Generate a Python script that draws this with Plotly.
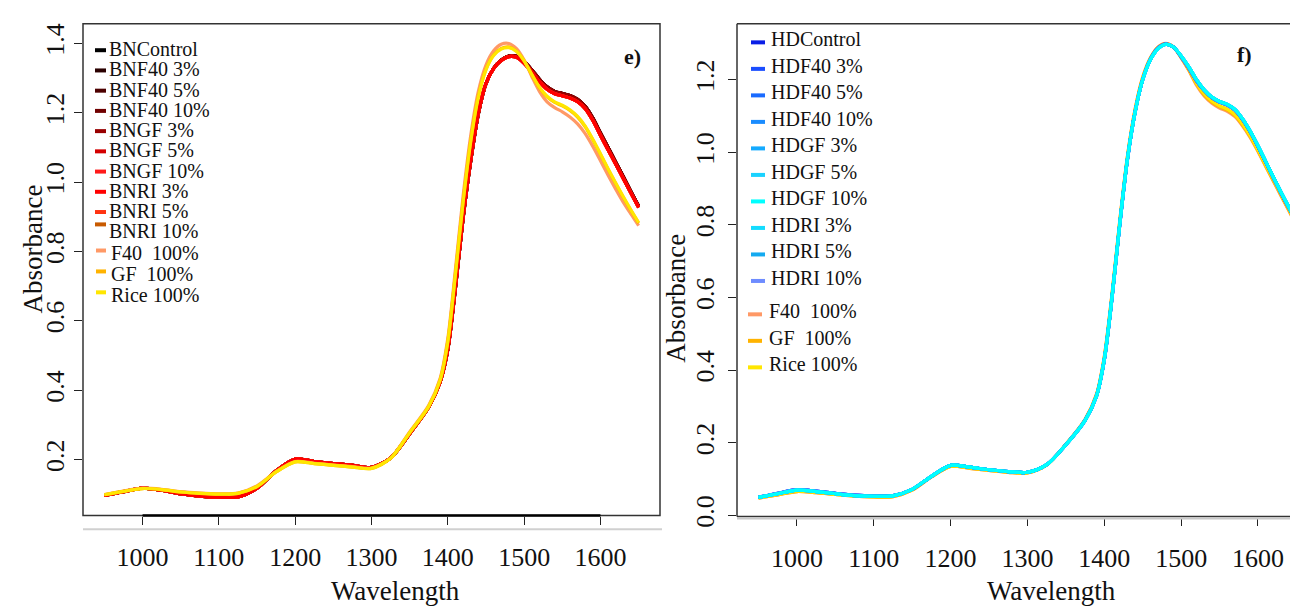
import plotly.graph_objects as go

W, H = 1298, 606
FONT = "Liberation Serif"

# ---------------- data ----------------
wavelength = [950, 975, 1000, 1025, 1050, 1075, 1100, 1125, 1150, 1175, 1200, 1225, 1250, 1275, 1300,
              1325, 1350, 1375, 1390, 1400, 1410, 1420, 1430, 1440, 1450, 1460, 1470, 1480, 1490, 1500,
              1510, 1520, 1530, 1540, 1550, 1560, 1570, 1580, 1590, 1600, 1610, 1620, 1630, 1640, 1650]

# panel e) blends (all bread-with-flour spectra overlap almost exactly)
bn_red = [0.097, 0.108, 0.118, 0.112, 0.102, 0.095, 0.092, 0.093, 0.118, 0.168, 0.202, 0.195, 0.189, 0.184, 0.178,
          0.205, 0.275, 0.352, 0.425, 0.520, 0.700, 0.900, 1.065, 1.200, 1.285, 1.328, 1.351, 1.362, 1.360, 1.343,
          1.318, 1.290, 1.268, 1.255, 1.249, 1.243, 1.232, 1.212, 1.178, 1.135, 1.093, 1.052, 1.010, 0.968, 0.927]
bn_dark = [0.097, 0.108, 0.118, 0.112, 0.102, 0.095, 0.092, 0.093, 0.118, 0.168, 0.202, 0.195, 0.189, 0.184, 0.178,
           0.205, 0.275, 0.352, 0.425, 0.518, 0.696, 0.896, 1.061, 1.197, 1.284, 1.328, 1.352, 1.364, 1.363, 1.348,
           1.324, 1.297, 1.275, 1.262, 1.256, 1.250, 1.239, 1.219, 1.185, 1.142, 1.100, 1.058, 1.016, 0.973, 0.931]
e_f40 = [0.100, 0.110, 0.118, 0.115, 0.108, 0.104, 0.102, 0.104, 0.125, 0.166, 0.195, 0.190, 0.185, 0.180, 0.176,
         0.205, 0.280, 0.357, 0.435, 0.550, 0.750, 0.960, 1.135, 1.262, 1.338, 1.379, 1.398, 1.400, 1.385, 1.352,
         1.305, 1.262, 1.232, 1.215, 1.203, 1.188, 1.168, 1.140, 1.103, 1.062, 1.020, 0.980, 0.942, 0.908, 0.875]
e_gf = [0.099, 0.109, 0.117, 0.114, 0.107, 0.103, 0.101, 0.103, 0.123, 0.165, 0.194, 0.189, 0.184, 0.179, 0.175,
        0.204, 0.278, 0.354, 0.431, 0.542, 0.738, 0.945, 1.120, 1.248, 1.326, 1.367, 1.386, 1.390, 1.378, 1.350,
        1.310, 1.272, 1.246, 1.230, 1.220, 1.207, 1.188, 1.160, 1.122, 1.080, 1.037, 0.996, 0.956, 0.918, 0.882]
e_rice = [0.099, 0.109, 0.117, 0.114, 0.107, 0.103, 0.101, 0.103, 0.123, 0.165, 0.194, 0.189, 0.184, 0.179, 0.175,
          0.204, 0.278, 0.354, 0.430, 0.540, 0.735, 0.942, 1.117, 1.245, 1.324, 1.365, 1.384, 1.388, 1.377, 1.350,
          1.311, 1.274, 1.248, 1.232, 1.222, 1.209, 1.190, 1.162, 1.124, 1.082, 1.039, 0.998, 0.958, 0.920, 0.884]

# panel f) blends
hd_all = [0.050, 0.060, 0.070, 0.066, 0.060, 0.055, 0.053, 0.054, 0.072, 0.108, 0.138, 0.133, 0.126, 0.121, 0.119,
          0.140, 0.195, 0.262, 0.330, 0.430, 0.600, 0.800, 0.980, 1.110, 1.200, 1.255, 1.285, 1.297, 1.290, 1.265,
          1.235, 1.200, 1.172, 1.152, 1.140, 1.132, 1.118, 1.092, 1.058, 1.018, 0.975, 0.932, 0.890, 0.850, 0.810]
hd_blue = [0.050, 0.061, 0.071, 0.067, 0.061, 0.056, 0.054, 0.055, 0.072, 0.108, 0.138, 0.133, 0.126, 0.121, 0.119,
           0.140, 0.195, 0.262, 0.330, 0.428, 0.598, 0.798, 0.978, 1.110, 1.200, 1.256, 1.287, 1.298, 1.290, 1.263,
           1.232, 1.197, 1.170, 1.150, 1.138, 1.130, 1.116, 1.090, 1.056, 1.016, 0.973, 0.930, 0.888, 0.848, 0.808]
f_f40 = [0.048, 0.057, 0.066, 0.063, 0.058, 0.053, 0.051, 0.052, 0.070, 0.106, 0.135, 0.130, 0.124, 0.119, 0.117,
         0.139, 0.196, 0.265, 0.335, 0.438, 0.610, 0.810, 0.988, 1.118, 1.207, 1.260, 1.290, 1.300, 1.290, 1.260,
         1.225, 1.185, 1.155, 1.135, 1.122, 1.113, 1.098, 1.072, 1.040, 1.002, 0.961, 0.920, 0.880, 0.840, 0.798]
f_gf = [0.048, 0.057, 0.066, 0.063, 0.058, 0.053, 0.051, 0.052, 0.070, 0.106, 0.135, 0.130, 0.124, 0.119, 0.117,
        0.139, 0.196, 0.264, 0.334, 0.436, 0.607, 0.807, 0.986, 1.116, 1.205, 1.259, 1.289, 1.299, 1.290, 1.261,
        1.227, 1.188, 1.158, 1.138, 1.125, 1.116, 1.101, 1.075, 1.043, 1.004, 0.963, 0.922, 0.882, 0.842, 0.800]
f_rice = [0.049, 0.058, 0.067, 0.064, 0.058, 0.054, 0.052, 0.053, 0.071, 0.107, 0.136, 0.131, 0.125, 0.120, 0.118,
          0.139, 0.196, 0.263, 0.333, 0.434, 0.605, 0.805, 0.984, 1.114, 1.204, 1.258, 1.288, 1.298, 1.290, 1.262,
          1.229, 1.190, 1.161, 1.141, 1.128, 1.119, 1.104, 1.078, 1.045, 1.006, 0.965, 0.924, 0.884, 0.844, 0.802]

e_names = ["BNControl", "BNF40 3%", "BNF40 5%", "BNF40 10%", "BNGF 3%", "BNGF 5%", "BNGF 10%",
           "BNRI 3%", "BNRI 5%", "BNRI 10%", "F40  100%", "GF  100%", "Rice 100%"]
e_colors = ["#000000", "#2a0000", "#4d0000", "#700000", "#990000", "#d40000", "#ff1a1a",
            "#ff0000", "#ff3311", "#c85a00", "#ff9966", "#ffb300", "#ffe600"]
e_values = [bn_dark, bn_dark, bn_dark, bn_dark, bn_dark, bn_red, bn_red,
            bn_red, bn_red, bn_red, e_f40, e_gf, e_rice]
e_draw_order = [0, 1, 2, 3, 4, 9, 5, 8, 6, 7, 10, 11, 12]

f_names = ["HDControl", "HDF40 3%", "HDF40 5%", "HDF40 10%", "HDGF 3%", "HDGF 5%", "HDGF 10%",
           "HDRI 3%", "HDRI 5%", "HDRI 10%", "F40  100%", "GF  100%", "Rice 100%"]
f_colors = ["#0a1ee6", "#1a4dff", "#1a6bff", "#1a8cff", "#14aaff", "#1ad2ff", "#00ffff",
            "#14dcff", "#14aaf0", "#6e8cff", "#ff9966", "#ffb300", "#ffe600"]
f_values = [hd_blue, hd_blue, hd_blue, hd_all, hd_all, hd_all, hd_all,
            hd_all, hd_all, hd_blue, f_f40, f_gf, f_rice]
f_draw_order = [10, 11, 12, 0, 1, 2, 9, 3, 8, 4, 5, 7, 6]

x_ticks = [1000, 1100, 1200, 1300, 1400, 1500, 1600]
e_yticks = [0.2, 0.4, 0.6, 0.8, 1.0, 1.2, 1.4]
f_yticks = [0.0, 0.2, 0.4, 0.6, 0.8, 1.0, 1.2]

# ---------------- figure ----------------
def px(x):
    return x / W


def py(y):
    return 1 - y / H


fig = go.Figure()

for i in e_draw_order:
    fig.add_trace(go.Scatter(x=wavelength, y=e_values[i], mode="lines", name=e_names[i],
                             line=dict(color=e_colors[i], width=3.2, shape="spline", smoothing=0.8),
                             xaxis="x", yaxis="y", showlegend=False))
for i in f_draw_order:
    fig.add_trace(go.Scatter(x=wavelength, y=f_values[i], mode="lines", name=f_names[i],
                             line=dict(color=f_colors[i], width=3.2, shape="spline", smoothing=0.8),
                             xaxis="x2", yaxis="y2", showlegend=False))

tickfont = dict(family=FONT, size=26, color="#111")
axis_common = dict(ticks="outside", ticklen=8, tickwidth=1.2, tickcolor="#222", showgrid=False,
                   zeroline=False, showline=False, tickfont=tickfont)

fig.update_layout(
    width=W, height=H, autosize=False,
    margin=dict(l=0, r=0, t=0, b=0),
    paper_bgcolor="white", plot_bgcolor="white",
    showlegend=False,
    xaxis=dict(domain=[px(75), px(652)], range=[922, 1678], tickvals=x_ticks, anchor="y",
               ticklabelstandoff=10, **axis_common),
    yaxis=dict(domain=[py(517), py(16)], range=[0.039, 1.457], tickvals=e_yticks, tickformat=".1f",
               tickangle=-90, anchor="x", **axis_common),
    xaxis2=dict(domain=[px(729), 1.0], range=[922, 1662.5], tickvals=x_ticks, anchor="y2",
                ticklabelstandoff=10, **axis_common),
    yaxis2=dict(domain=[py(518), py(16)], range=[-0.003, 1.354], tickvals=f_yticks, tickformat=".1f",
                tickangle=-90, anchor="x2", ticklabelstandoff=4, **axis_common),
)

shapes = []
# panel e frame
shapes.append(dict(type="rect", xref="x domain", yref="y domain", x0=0, x1=1, y0=0, y1=1,
                   line=dict(color="#333", width=1.5), layer="above"))
shapes.append(dict(type="line", xref="x", yref="y domain", x0=min(x_ticks), x1=max(x_ticks), y0=0, y1=0,
                   line=dict(color="#000", width=2.5), layer="above"))
shapes.append(dict(type="line", xref="paper", yref="paper", x0=px(75), x1=px(654), y0=py(531), y1=py(531),
                   line=dict(color="#d0d0d0", width=2)))
# panel f frame (right side is cut off)
for (x0, y0, x1, y1) in [(0, 0, 1, 0), (0, 1, 1, 1), (0, 0, 0, 1)]:
    shapes.append(dict(type="line", xref="x2 domain", yref="y2 domain", x0=x0, x1=x1, y0=y0, y1=y1,
                       line=dict(color="#333", width=1.5), layer="above"))
shapes.append(dict(type="line", xref="paper", yref="paper", x0=px(729), x1=1.0, y0=py(520), y1=py(520),
                   line=dict(color="#c8c8c8", width=2)))

annotations = []
title_font = dict(family=FONT, size=27, color="#111")
for text, x, y, ang in [("Absorbance", 25, 246, -90), ("Absorbance", 668, 296, -90),
                        ("Wavelength", 387, 594, 0), ("Wavelength", 1043, 594, 0)]:
    annotations.append(dict(text=text, x=px(x), y=py(y), xref="paper", yref="paper", textangle=ang,
                            xanchor="center", yanchor="middle", showarrow=False, font=title_font))
# panel labels
for text, x, y in [("<b>e)</b>", 624, 49), ("<b>f)</b>", 1236, 47)]:
    annotations.append(dict(text=text, x=px(x), y=py(y), xref="paper", yref="paper",
                            xanchor="center", yanchor="middle", showarrow=False,
                            font=dict(family=FONT, size=22, color="#111")))

# legends
legfont = dict(family=FONT, size=20, color="#111")
for i, (name, col) in enumerate(zip(e_names, e_colors)):
    if i < 10:
        ty = 42 + i * 20.6
        my = ty + 1 if i < 9 else ty - 7
        mx0, mx1, tx = 87, 98, 99
    else:
        ty = 250 + (i - 10) * 21.3
        my = ty - 3
        mx0, mx1, tx = 88, 98, 101
    shapes.append(dict(type="line", xref="paper", yref="paper", x0=px(mx0), x1=px(mx1), y0=py(my), y1=py(my),
                       line=dict(color=col, width=4)))
    annotations.append(dict(text=name, x=px(tx), y=py(ty), xref="paper", yref="paper", xanchor="left",
                            yanchor="middle", showarrow=False, font=legfont))

for i, (name, col) in enumerate(zip(f_names, f_colors)):
    if i < 10:
        ty = 32 + i * 27.0
        my = ty + 3
        mx0, mx1, tx = 743, 757, 761
    else:
        ty = 309 + (i - 10) * 27.0
        my = ty + 3
        mx0, mx1, tx = 740, 754, 759
    shapes.append(dict(type="line", xref="paper", yref="paper", x0=px(mx0), x1=px(mx1), y0=py(my), y1=py(my),
                       line=dict(color=col, width=4)))
    annotations.append(dict(text=name, x=px(tx), y=py(ty), xref="paper", yref="paper", xanchor="left",
                            yanchor="middle", showarrow=False, font=legfont))

fig.update_layout(shapes=shapes, annotations=annotations)
fig.write_html("out.html")
